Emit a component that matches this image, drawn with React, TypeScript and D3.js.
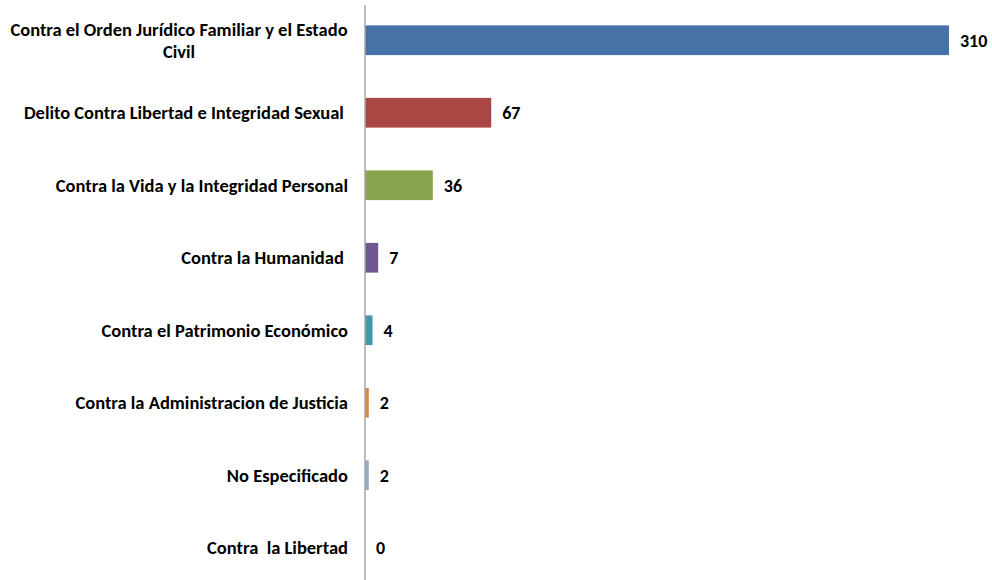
import { scaleBand, scaleLinear } from 'd3'

const categories = [
  ['Contra el Orden Jurídico Familiar y el Estado', 'Civil'],
  ['Delito Contra Libertad e Integridad Sexual '],
  ['Contra la Vida y la Integridad Personal'],
  ['Contra la Humanidad '],
  ['Contra el Patrimonio Económico'],
  ['Contra la Administracion de Justicia'],
  ['No Especificado'],
  ['Contra  la Libertad'],
]

const values = [310, 67, 36, 7, 4, 2, 2, 0]

const colors = ['#4572A7', '#AA4643', '#89A54E', '#71588F', '#4198AF', '#DB843D', '#93A9CF', '#D19392']

const width = 992
const height = 580
const axisX = 365
const fontFamily = 'Calibri, Carlito, Lato, sans-serif'

function App() {
  const yScale = scaleBand<number>()
    .domain(values.map((_, i) => i))
    .range([4, 584])
    .paddingInner(0.59)
    .paddingOuter(0.295)

  const xScale = scaleLinear().domain([0, 310]).range([axisX, 949])

  return (
    <svg
      width={width}
      height={height}
      style={{ position: 'absolute', left: 0, top: 0, background: '#fff' }}
      fontFamily={fontFamily}
      fontWeight="bold"
    >
      {values.map((v, i) => {
        const y = yScale(i) ?? 0
        return (
          <rect
            key={`bar-${i}`}
            x={xScale(0)}
            y={y}
            width={xScale(v) - xScale(0)}
            height={yScale.bandwidth()}
            fill={colors[i]}
          />
        )
      })}

      <line x1={axisX} y1={5} x2={axisX} y2={580} stroke="#A6A6A6" strokeWidth={1.5} />

      {values.map((v, i) => {
        const cy = (yScale(i) ?? 0) + yScale.bandwidth() / 2
        return (
          <text
            key={`val-${i}`}
            x={xScale(v) + 11}
            y={cy}
            dy="0.35em"
            fontSize={18}
            fill="#000"
          >
            {v}
          </text>
        )
      })}

      {categories.map((lines, i) => {
        const cy = (yScale(i) ?? 0) + yScale.bandwidth() / 2
        const lineH = 22
        const top = cy - ((lines.length - 1) * lineH) / 2
        const multi = lines.length > 1
        return (
          <text
            key={`cat-${i}`}
            fontSize={18.5}
            fill="#000"
            textAnchor={multi ? 'middle' : 'end'}
            style={{ whiteSpace: 'pre' }}
          >
            {lines.map((l, j) => (
              <tspan key={j} x={multi ? 179 : 348} y={top + j * lineH} dy="0.35em">
                {l}
              </tspan>
            ))}
          </text>
        )
      })}
    </svg>
  )
}

export default App
